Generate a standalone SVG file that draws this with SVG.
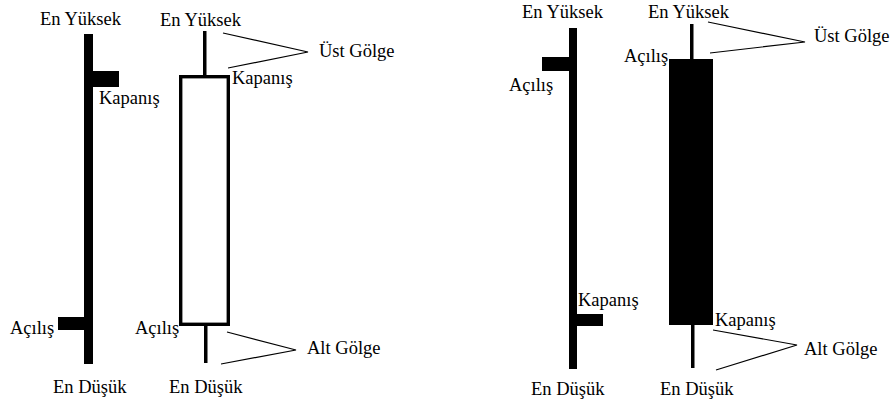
<svg xmlns="http://www.w3.org/2000/svg" width="893" height="405" viewBox="0 0 893 405">
  <style>
    text { font-family: "Liberation Serif", "Times New Roman", serif; font-size: 18.5px; fill: #000; }
    .solid { fill: #000; }
    .hollow { fill: #fff; stroke: #000; stroke-width: 3.4; }
    .lead { stroke: #000; stroke-width: 1.2; fill: none; }
  </style>
  <rect width="893" height="405" fill="#fff"/>

  <!-- Bar chart, rising -->
  <g id="bar-up">
    <rect class="solid" x="84" y="34" width="9" height="330"/>
    <rect class="solid" x="93" y="71" width="26" height="16"/>
    <rect class="solid" x="58" y="317" width="26" height="13"/>
    <text x="40" y="25">En Yüksek</text>
    <text x="99" y="104">Kapanış</text>
    <text x="10" y="334">Açılış</text>
    <text x="53" y="393">En Düşük</text>
  </g>

  <!-- Hollow (rising) candle -->
  <g id="candle-up">
    <rect class="solid" x="203" y="31" width="3.5" height="45"/>
    <rect class="solid" x="204" y="325" width="3.5" height="38"/>
    <rect class="hollow" x="180.7" y="76.7" width="47.6" height="247.6"/>
    <text x="160" y="26">En Yüksek</text>
    <text x="232" y="84">Kapanış</text>
    <text x="135" y="334">Açılış</text>
    <text x="169" y="393">En Düşük</text>
  </g>

  <!-- Bar chart, falling -->
  <g id="bar-down">
    <rect class="solid" x="569" y="28" width="8" height="341"/>
    <rect class="solid" x="542" y="57" width="27" height="14"/>
    <rect class="solid" x="577" y="314" width="26" height="12"/>
    <text x="522" y="18">En Yüksek</text>
    <text x="509" y="91">Açılış</text>
    <text x="578" y="306">Kapanış</text>
    <text x="531" y="395">En Düşük</text>
  </g>

  <!-- Filled (falling) candle -->
  <g id="candle-down">
    <rect class="solid" x="690" y="24" width="3.5" height="36"/>
    <rect class="solid" x="691" y="324" width="3.5" height="44"/>
    <rect class="solid" x="669" y="59" width="44" height="266"/>
    <text x="648" y="18">En Yüksek</text>
    <text x="624" y="62">Açılış</text>
    <text x="715" y="326">Kapanış</text>
    <text x="660" y="395">En Düşük</text>
  </g>

  <!-- Shadow labels -->
  <g id="label-ust-golge-1"><text x="319" y="57">Üst Gölge</text></g>
  <g id="label-alt-golge-1"><text x="307" y="354">Alt Gölge</text></g>
  <g id="label-ust-golge-2"><text x="814" y="42">Üst Gölge</text></g>
  <g id="label-alt-golge-2"><text x="804" y="355">Alt Gölge</text></g>

  <!-- Leader lines -->
  <g id="connectors">
    <polyline class="lead" points="223,33 308,52 228,68"/>
    <polyline class="lead" points="227,332 296,350 221,364"/>
    <polyline class="lead" points="708,22 805,42 710,53"/>
    <polyline class="lead" points="713,330 797,345 716,370"/>
  </g>
</svg>
